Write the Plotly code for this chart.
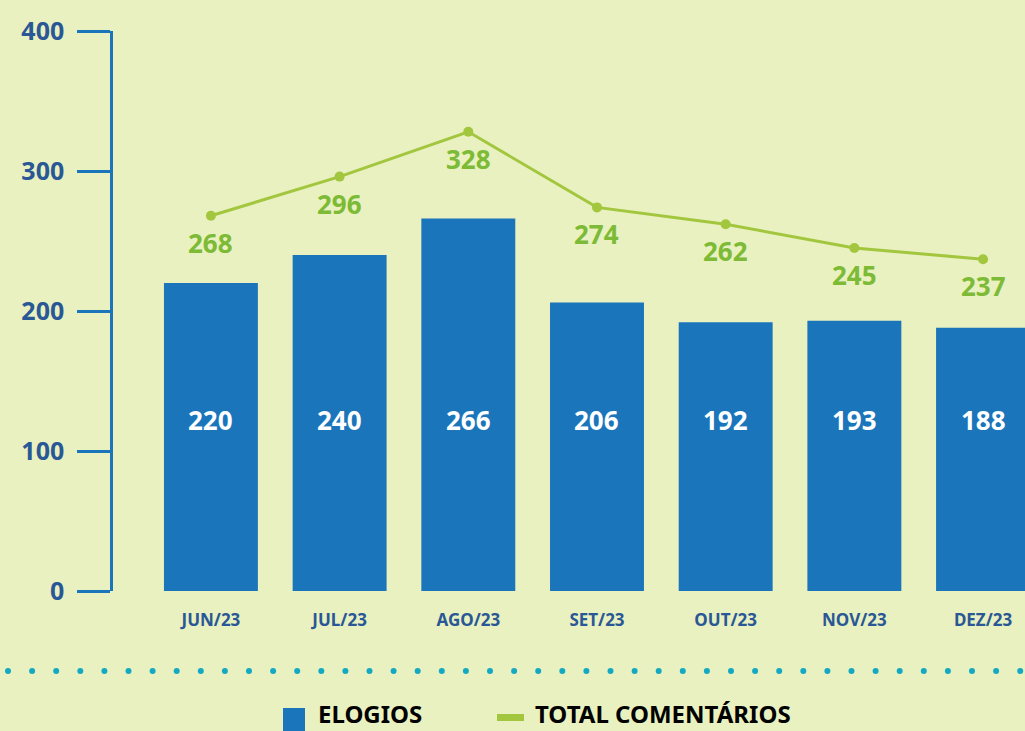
import plotly.graph_objects as go

months = ["JUN/23", "JUL/23", "AGO/23", "SET/23", "OUT/23", "NOV/23", "DEZ/23"]
elogios = [220, 240, 266, 206, 192, 193, 188]
total_comentarios = [268, 296, 328, 274, 262, 245, 237]
y_ticks = [0, 100, 200, 300, 400]

W, H = 1025, 731
L, R, T, B = 113, 0, 31, 140
PW, PH = W - L - R, H - T - B

def px(x):
    return (x - L) / PW

def py(y):
    return (H - B - y) / PH

FONT = "Noto Sans"
BLUE = "#1b75bb"
GREEN_LINE = "#a3c63f"
GREEN_TXT = "#7dba35"
AXIS_TXT = "#2a5796"
BG = "#e8f1bf"

fig = go.Figure()
fig.add_trace(go.Bar(
    x=months, y=elogios, name="ELOGIOS", marker=dict(color=BLUE, line=dict(width=0)),
    showlegend=False,
))
fig.add_trace(go.Scatter(
    x=months, y=total_comentarios, name="TOTAL COMENTÁRIOS", mode="lines+markers",
    line=dict(color=GREEN_LINE, width=3), marker=dict(color=GREEN_LINE, size=10),
    showlegend=False, cliponaxis=False,
))

annotations = []
for m, v in zip(months, elogios):
    annotations.append(dict(
        x=m, y=py(420), xref="x", yref="paper", text=str(v), showarrow=False,
        yanchor="middle", xanchor="center",
        font=dict(family=FONT, size=26, color="white", weight="bold"),
    ))
for m, v in zip(months, total_comentarios):
    annotations.append(dict(
        x=m, y=v, xref="x", yref="y", text=str(v), showarrow=False,
        yanchor="middle", xanchor="center", yshift=-27,
        font=dict(family=FONT, size=26, color=GREEN_TXT, weight="bold"),
    ))

shapes = []
# dotted separator
x0 = 8
while x0 <= 1022:
    shapes.append(dict(type="circle", xref="paper", yref="paper",
                       x0=px(x0 - 3), x1=px(x0 + 3), y0=py(671 + 3), y1=py(671 - 3),
                       fillcolor="#14a9c2", line=dict(width=0)))
    x0 += 24.1

# legend
shapes.append(dict(type="rect", xref="paper", yref="paper",
                   x0=px(283), x1=px(305), y0=py(735), y1=py(708),
                   fillcolor=BLUE, line=dict(width=0)))
shapes.append(dict(type="rect", xref="paper", yref="paper",
                   x0=px(497), x1=px(524), y0=py(721), y1=py(714),
                   fillcolor=GREEN_LINE, line=dict(width=0)))
annotations.append(dict(x=px(317), y=py(713), xref="paper", yref="paper", text="ELOGIOS",
                        showarrow=False, xanchor="left", yanchor="middle", borderpad=0,
                        font=dict(family=FONT, size=24, color="black", weight="bold")))
annotations.append(dict(x=px(534), y=py(713), xref="paper", yref="paper", text="TOTAL COMENTÁRIOS",
                        showarrow=False, xanchor="left", yanchor="middle", borderpad=0,
                        font=dict(family=FONT, size=24, color="black", weight="bold")))

fig.update_layout(
    width=W, height=H,
    margin=dict(l=L, r=R, t=T, b=B, pad=0),
    paper_bgcolor=BG, plot_bgcolor=BG,
    bargap=0.27,
    showlegend=False,
    annotations=annotations,
    shapes=shapes,
    xaxis=dict(
        type="category", range=[-0.761, 6.326], showgrid=False, zeroline=False,
        showline=False, ticks="",
        tickfont=dict(family=FONT, size=17, color=AXIS_TXT, weight="bold"),
        ticklabelstandoff=17,
    ),
    yaxis=dict(
        range=[0, 400], tickvals=y_ticks, showgrid=False, zeroline=False,
        showline=True, linecolor=BLUE, linewidth=2.5,
        ticks="outside", ticklen=33, tickwidth=2.5, tickcolor=BLUE,
        tickfont=dict(family=FONT, size=25, color=AXIS_TXT, weight="bold"),
        ticklabelstandoff=8,
    ),
)

fig.write_html("out.html", config={"displayModeBar": False},
               post_script="document.body.style.margin='0';document.body.style.background='%s';" % BG)
